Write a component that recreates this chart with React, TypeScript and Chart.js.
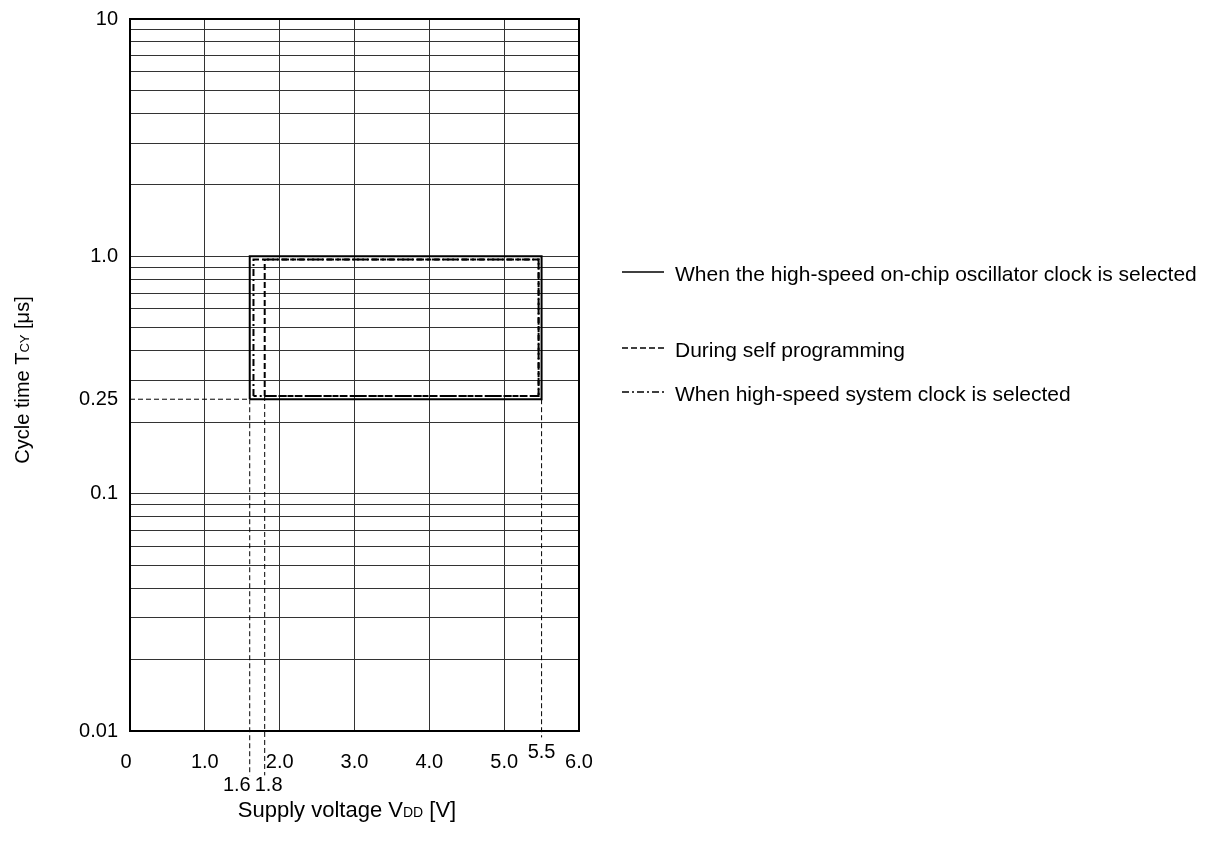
import React, { useEffect, useRef } from "react";
import { Chart, registerables } from "chart.js";

Chart.register(...registerables);

// ---- Data ----
const X_GRID = [0, 1, 2, 3, 4, 5, 6];
const X_TICK_LABELS = ["0", "1.0", "2.0", "3.0", "4.0", "5.0", "6.0"];
const X_MARKS = [1.6, 1.8, 5.5];
const X_MARK_LABELS = ["1.6", "1.8", "5.5"];

const Y_GRID = [
  0.01, 0.02, 0.03, 0.04, 0.05, 0.06, 0.07, 0.08, 0.09,
  0.1, 0.2, 0.3, 0.4, 0.5, 0.6, 0.7, 0.8, 0.9,
  1, 2, 3, 4, 5, 6, 7, 8, 9, 10,
];
const Y_TICKS = [10, 1, 0.25, 0.1, 0.01];
const Y_TICK_LABELS = ["10", "1.0", "0.25", "0.1", "0.01"];

// Operating ranges (supply voltage [V], cycle time [µs])
const ONCHIP_V = [1.6, 1.6, 5.5, 5.5, 1.6];
const ONCHIP_T = [0.25, 1.0, 1.0, 0.25, 0.25];
const SELFPROG_V = [1.8, 1.8, 5.46, 5.46, 1.8];
const SELFPROG_T = [0.258, 0.97, 0.97, 0.258, 0.258];
const HSSYS_V = [1.65, 1.65, 5.46, 5.46, 1.65];
const HSSYS_T = [0.258, 0.97, 0.97, 0.258, 0.258];

// Reference guide lines
const GUIDE_H_V = [0, 1.6];
const GUIDE_H_T = [0.25, 0.25];
const GUIDE_16_V = [1.6, 1.6];
const GUIDE_16_T = [0.25, 0.0065];
const GUIDE_18_V = [1.8, 1.8];
const GUIDE_18_T = [0.258, 0.0065];
const GUIDE_55_V = [5.5, 5.5];
const GUIDE_55_T = [0.25, 0.0094];

const LEGEND_LABELS = [
  "When the high-speed on-chip oscillator clock is selected",
  "During self programming",
  "When high-speed system clock is selected",
];

const FONT = '"Liberation Sans", Arial, sans-serif';

const pts = (xs: number[], ys: number[]) => xs.map((x, i) => ({ x, y: ys[i] }));

const DASH = [6, 3];
const DASHDOT = [7, 3, 2, 3];

const lineDs = (label: string, data: any[], dash: number[], width: number) => ({
  label,
  data,
  borderColor: "#000",
  borderWidth: width,
  borderDash: dash,
  pointRadius: 0,
  fill: false,
  tension: 0,
  showLine: true,
  clip: false as any,
});

const decorPlugin = {
  id: "decor",
  beforeDatasetsDraw(chart: any) {
    const { ctx, chartArea } = chart;
    ctx.save();
    ctx.strokeStyle = "#000";
    ctx.lineWidth = 2;
    ctx.strokeRect(chartArea.left, chartArea.top, chartArea.right - chartArea.left, chartArea.bottom - chartArea.top);
    ctx.restore();
  },
  afterDraw(chart: any) {
    const { ctx, chartArea } = chart;
    const xs = chart.scales.x;
    const ys = chart.scales.y;
    ctx.save();
    ctx.fillStyle = "#000";
    ctx.font = `20px ${FONT}`;
    // y tick labels
    ctx.textAlign = "right";
    ctx.textBaseline = "middle";
    Y_TICKS.forEach((v, i) => {
      ctx.fillText(Y_TICK_LABELS[i], chartArea.left - 12, ys.getPixelForValue(v));
    });
    // x tick labels
    ctx.textAlign = "center";
    X_GRID.forEach((v, i) => {
      ctx.fillText(X_TICK_LABELS[i], xs.getPixelForValue(v) + (i === 0 ? -4 : 0), chartArea.bottom + 31);
    });
    // special marks
    X_MARKS.forEach((v, i) => {
      const px = xs.getPixelForValue(v);
      if (X_MARK_LABELS[i] === "1.6") {
        ctx.textAlign = "right";
        ctx.fillText(X_MARK_LABELS[i], px + 1, chartArea.bottom + 54);
      } else if (X_MARK_LABELS[i] === "1.8") {
        ctx.textAlign = "left";
        ctx.fillText(X_MARK_LABELS[i], px - 10, chartArea.bottom + 54);
      } else {
        ctx.textAlign = "center";
        ctx.fillText(X_MARK_LABELS[i], px, chartArea.bottom + 21);
      }
    });

    const drawMixed = (parts: [string, number][], x: number, y: number) => {
      let cx = x;
      ctx.textAlign = "left";
      ctx.textBaseline = "alphabetic";
      parts.forEach(([t, s]) => {
        ctx.font = `${s}px ${FONT}`;
        ctx.fillText(t, cx, y);
        cx += ctx.measureText(t).width;
      });
    };
    const measureMixed = (parts: [string, number][]) => {
      let w = 0;
      parts.forEach(([t, s]) => {
        ctx.font = `${s}px ${FONT}`;
        w += ctx.measureText(t).width;
      });
      return w;
    };
    // x title: Supply voltage VDD [V]
    const xTitle: [string, number][] = [["Supply voltage V", 22], ["DD", 14], [" [V]", 22]];
    const xw = measureMixed(xTitle);
    drawMixed(xTitle, 347 - xw / 2, 817);

    // y title: Cycle time TCY [µs]
    const yTitle: [string, number][] = [["Cycle time T", 20], ["CY", 13], [" [\u03bcs]", 20]];
    const yw = measureMixed(yTitle);
    ctx.save();
    ctx.translate(29, 380);
    ctx.rotate(-Math.PI / 2);
    drawMixed(yTitle, -yw / 2, 0);
    ctx.restore();

    // legend
    const rows = [272, 348, 392];
    const dashes = [[], DASH, DASHDOT];
    rows.forEach((ry, i) => {
      ctx.strokeStyle = "#000";
      ctx.lineWidth = 1.5;
      ctx.setLineDash(dashes[i]);
      ctx.beginPath();
      ctx.moveTo(622, ry);
      ctx.lineTo(664, ry);
      ctx.stroke();
      ctx.setLineDash([]);
      ctx.font = `21px ${FONT}`;
      ctx.textAlign = "left";
      ctx.textBaseline = "middle";
      ctx.fillText(LEGEND_LABELS[i], 675, ry + 3);
    });
    ctx.restore();
  },
};

export default function App() {
  const ref = useRef<HTMLCanvasElement | null>(null);
  useEffect(() => {
    if (!ref.current) return;
    const chart = new Chart(ref.current, {
      type: "line",
      data: {
        datasets: [
          lineDs(LEGEND_LABELS[0], pts(ONCHIP_V, ONCHIP_T), [], 2),
          lineDs(LEGEND_LABELS[1], pts(SELFPROG_V, SELFPROG_T), DASH, 2),
          lineDs(LEGEND_LABELS[2], pts(HSSYS_V, HSSYS_T), DASHDOT, 2),
          lineDs("guide-h", pts(GUIDE_H_V, GUIDE_H_T), [5, 3], 1),
          lineDs("guide-16", pts(GUIDE_16_V, GUIDE_16_T), [5, 3], 1),
          lineDs("guide-18", pts(GUIDE_18_V, GUIDE_18_T), [5, 3], 1),
          lineDs("guide-55", pts(GUIDE_55_V, GUIDE_55_T), [5, 3], 1),
        ] as any,
      },
      options: {
        responsive: false,
        animation: false,
        devicePixelRatio: 1,
        layout: { padding: { left: 130, top: 19, right: 633, bottom: 117 } },
        plugins: { legend: { display: false }, tooltip: { enabled: false } },
        scales: {
          x: {
            type: "linear",
            min: 0,
            max: 6,
            afterBuildTicks: (s: any) => {
              s.ticks = X_GRID.map((v) => ({ value: v }));
            },
            ticks: { display: false },
            grid: { drawTicks: false, color: "#333", lineWidth: 1 },
            border: { display: false },
          },
          y: {
            type: "logarithmic",
            min: 0.01,
            max: 10,
            afterBuildTicks: (s: any) => {
              s.ticks = Y_GRID.map((v) => ({ value: v }));
            },
            ticks: { display: false },
            grid: { drawTicks: false, color: "#333", lineWidth: 1 },
            border: { display: false },
          },
        },
      },
      plugins: [decorPlugin],
    });
    return () => chart.destroy();
  }, []);
  return (
    <div style={{ position: "fixed", left: 0, top: 0, width: 1212, height: 848, background: "#fff" }}>
      <canvas ref={ref} width={1212} height={848} style={{ display: "block" }} />
    </div>
  );
}
